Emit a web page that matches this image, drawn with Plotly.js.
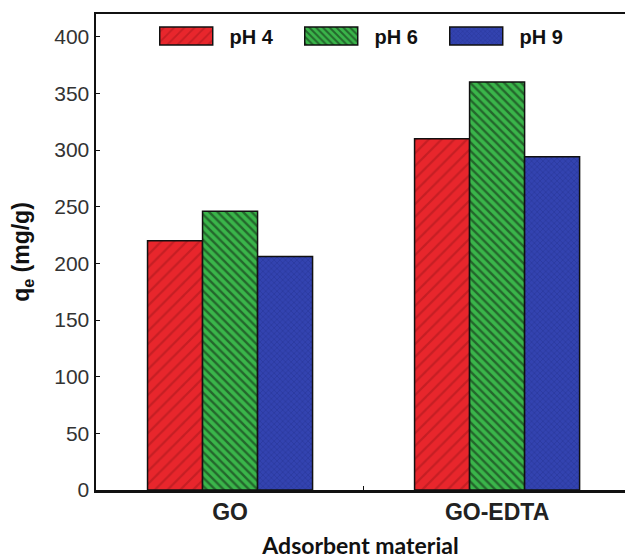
<!DOCTYPE html>
<html>
<head>
<meta charset="utf-8">
<script src="https://cdn.plot.ly/plotly-3.0.1.min.js"></script>
<style>html,body{margin:0;padding:0;background:#fff;}#chart{width:625px;height:559px;}</style>
</head>
<body>
<div id="chart"></div>
<script>
const categories = ["GO", "GO-EDTA"];
const seriesNames = ["pH 4", "pH 6", "pH 9"];
const ph4 = [220, 310];
const ph6 = [246, 360];
const ph9 = [206, 294];
const yTicks = [0, 50, 100, 150, 200, 250, 300, 350, 400];

const outline = {color: "#111", width: 1.5};
const traces = [
  {type: "bar", name: seriesNames[0], x: categories, y: ph4,
   marker: {color: "#e8262c", line: outline,
            pattern: {shape: "/", fgcolor: "#a3161b", size: 9, solidity: 0.25, fillmode: "overlay"}}},
  {type: "bar", name: seriesNames[1], x: categories, y: ph6,
   marker: {color: "#3ab54a", line: outline,
            pattern: {shape: "\\", fgcolor: "#0d1a0d", size: 6, solidity: 0.4, fillmode: "overlay"}}},
  {type: "bar", name: seriesNames[2], x: categories, y: ph9,
   marker: {color: "#3343b0", line: outline,
            pattern: {shape: "x", fgcolor: "#1f2a85", size: 4, solidity: 0.3, fillmode: "overlay"}}}
];

const layout = {
  width: 625, height: 559,
  margin: {l: 96, r: 0, t: 14, b: 69},
  paper_bgcolor: "#fff", plot_bgcolor: "#fff",
  barmode: "group", bargap: 0.382, bargroupgap: 0,
  font: {family: "Liberation Sans, Arial, sans-serif", color: "#333"},
  showlegend: true,
  legend: {orientation: "h", x: 0.0888, y: 0.995, xanchor: "left", yanchor: "top",
           font: {family: "Liberation Sans, Arial, sans-serif", size: 20, color: "#111", weight: "bold"},
           entrywidth: 53.5, entrywidthmode: "pixels", itemwidth: 76.5, bgcolor: "rgba(0,0,0,0)"},
  xaxis: {type: "category", range: [-0.502, 1.479], showline: true, linecolor: "#111", linewidth: 2.5,
          mirror: true, ticks: "inside", ticklen: 4, tickcolor: "#111", tickson: "boundaries",
          showgrid: false, zeroline: false,
          tickfont: {family: "Liberation Sans, Arial, sans-serif", size: 23, color: "#222", weight: "bold"},
          title: {text: "Adsorbent material", standoff: 20,
                  font: {family: "Lato, Carlito, sans-serif", size: 23, color: "#111", weight: "bold"}}},
  yaxis: {range: [0, 420], tickvals: yTicks, showline: true, linecolor: "#111", linewidth: 2.5,
          ticks: "inside", ticklen: 4, tickcolor: "#111", showgrid: false, zeroline: false,
          tickfont: {family: "Liberation Sans, Arial, sans-serif", size: 21, color: "#333"},
          title: {text: "q<sub>e</sub> (mg/g)", standoff: 18,
                  font: {family: "Liberation Sans, Arial, sans-serif", size: 23, color: "#111", weight: "bold"}}}
};

Plotly.newPlot("chart", traces, layout, {displayModeBar: false, staticPlot: true}).then(function (gd) {
  // widen the legend swatches into the long rectangles used in the reference
  gd.querySelectorAll(".legend .legendpoints path").forEach(function (p) {
    p.setAttribute("d", "M26.5,9H-26.5V-9H26.5Z");
  });
});
</script>
</body>
</html>
